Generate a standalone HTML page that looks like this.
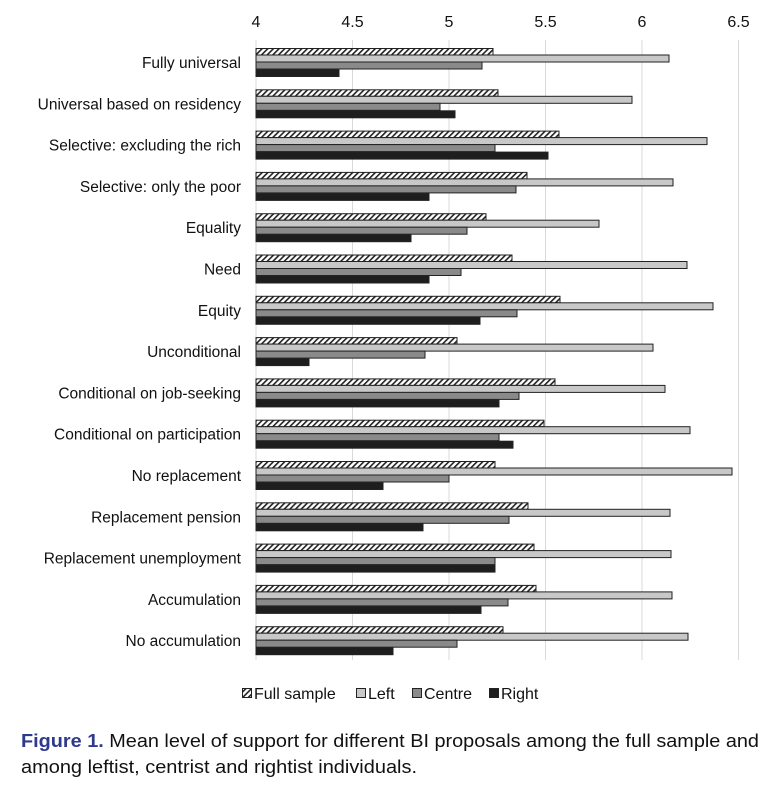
<!DOCTYPE html>
<html><head><meta charset="utf-8"><style>
html,body{margin:0;padding:0;background:#fff;}
svg{display:block;}
text{font-family:"Liberation Sans",sans-serif;fill:#111;}
</style></head><body>
<svg width="778" height="792" viewBox="0 0 778 792" xmlns="http://www.w3.org/2000/svg">
<defs>
<pattern id="h" patternUnits="userSpaceOnUse" width="4" height="4" patternTransform="rotate(45)">
<rect width="4" height="4" fill="#fff"/><rect width="1.6" height="4" fill="#222"/>
</pattern>
<g id="dummy"></g>
</defs>
<g stroke="#d9d9d9" stroke-width="1">
<line x1="256" y1="40" x2="256" y2="660"/>
<line x1="352.5" y1="40" x2="352.5" y2="660"/>
<line x1="449" y1="40" x2="449" y2="660"/>
<line x1="545.5" y1="40" x2="545.5" y2="660"/>
<line x1="642" y1="40" x2="642" y2="660"/>
<line x1="738.5" y1="40" x2="738.5" y2="660"/>
</g>
<g font-size="16" text-anchor="middle">
<text x="256" y="27">4</text><text x="352.5" y="27">4.5</text><text x="449" y="27">5</text>
<text x="545.5" y="27">5.5</text><text x="642" y="27">6</text><text x="738.5" y="27">6.5</text>
</g>
<g font-size="15.5" text-anchor="end">
<text x="241" y="68">Fully universal</text>
<text x="241" y="109.3">Universal based on residency</text>
<text x="241" y="150.6">Selective: excluding the rich</text>
<text x="241" y="191.9">Selective: only the poor</text>
<text x="241" y="233.2">Equality</text>
<text x="241" y="274.5">Need</text>
<text x="241" y="315.8">Equity</text>
<text x="241" y="357.1">Unconditional</text>
<text x="241" y="398.4">Conditional on job-seeking</text>
<text x="241" y="439.7">Conditional on participation</text>
<text x="241" y="481">No replacement</text>
<text x="241" y="522.3">Replacement pension</text>
<text x="241" y="563.6">Replacement unemployment</text>
<text x="241" y="604.9">Accumulation</text>
<text x="241" y="646.2">No accumulation</text>
</g>
<g stroke="#222" stroke-width="1">
<g transform="translate(256,48)"><rect y="0.5" width="237" height="6.5" fill="url(#h)"/><rect y="7" width="413" height="7" fill="#c8c8c8"/><rect y="14" width="226" height="7" fill="#8a8a8a"/><rect y="21.5" width="83" height="7" fill="#1e1e1e"/></g>
<g transform="translate(256,89.3)"><rect y="0.5" width="242" height="6.5" fill="url(#h)"/><rect y="7" width="376" height="7" fill="#c8c8c8"/><rect y="14" width="184" height="7" fill="#8a8a8a"/><rect y="21.5" width="199" height="7" fill="#1e1e1e"/></g>
<g transform="translate(256,130.6)"><rect y="0.5" width="303" height="6.5" fill="url(#h)"/><rect y="7" width="451" height="7" fill="#c8c8c8"/><rect y="14" width="239" height="7" fill="#8a8a8a"/><rect y="21.5" width="292" height="7" fill="#1e1e1e"/></g>
<g transform="translate(256,171.9)"><rect y="0.5" width="271" height="6.5" fill="url(#h)"/><rect y="7" width="417" height="7" fill="#c8c8c8"/><rect y="14" width="260" height="7" fill="#8a8a8a"/><rect y="21.5" width="173" height="7" fill="#1e1e1e"/></g>
<g transform="translate(256,213.2)"><rect y="0.5" width="230" height="6.5" fill="url(#h)"/><rect y="7" width="343" height="7" fill="#c8c8c8"/><rect y="14" width="211" height="7" fill="#8a8a8a"/><rect y="21.5" width="155" height="7" fill="#1e1e1e"/></g>
<g transform="translate(256,254.5)"><rect y="0.5" width="256" height="6.5" fill="url(#h)"/><rect y="7" width="431" height="7" fill="#c8c8c8"/><rect y="14" width="205" height="7" fill="#8a8a8a"/><rect y="21.5" width="173" height="7" fill="#1e1e1e"/></g>
<g transform="translate(256,295.8)"><rect y="0.5" width="304" height="6.5" fill="url(#h)"/><rect y="7" width="457" height="7" fill="#c8c8c8"/><rect y="14" width="261" height="7" fill="#8a8a8a"/><rect y="21.5" width="224" height="7" fill="#1e1e1e"/></g>
<g transform="translate(256,337.1)"><rect y="0.5" width="201" height="6.5" fill="url(#h)"/><rect y="7" width="397" height="7" fill="#c8c8c8"/><rect y="14" width="169" height="7" fill="#8a8a8a"/><rect y="21.5" width="53" height="7" fill="#1e1e1e"/></g>
<g transform="translate(256,378.4)"><rect y="0.5" width="299" height="6.5" fill="url(#h)"/><rect y="7" width="409" height="7" fill="#c8c8c8"/><rect y="14" width="263" height="7" fill="#8a8a8a"/><rect y="21.5" width="243" height="7" fill="#1e1e1e"/></g>
<g transform="translate(256,419.7)"><rect y="0.5" width="288" height="6.5" fill="url(#h)"/><rect y="7" width="434" height="7" fill="#c8c8c8"/><rect y="14" width="243" height="7" fill="#8a8a8a"/><rect y="21.5" width="257" height="7" fill="#1e1e1e"/></g>
<g transform="translate(256,461)"><rect y="0.5" width="239" height="6.5" fill="url(#h)"/><rect y="7" width="476" height="7" fill="#c8c8c8"/><rect y="14" width="193" height="7" fill="#8a8a8a"/><rect y="21.5" width="127" height="7" fill="#1e1e1e"/></g>
<g transform="translate(256,502.3)"><rect y="0.5" width="272" height="6.5" fill="url(#h)"/><rect y="7" width="414" height="7" fill="#c8c8c8"/><rect y="14" width="253" height="7" fill="#8a8a8a"/><rect y="21.5" width="167" height="7" fill="#1e1e1e"/></g>
<g transform="translate(256,543.6)"><rect y="0.5" width="278" height="6.5" fill="url(#h)"/><rect y="7" width="415" height="7" fill="#c8c8c8"/><rect y="14" width="239" height="7" fill="#8a8a8a"/><rect y="21.5" width="239" height="7" fill="#1e1e1e"/></g>
<g transform="translate(256,584.9)"><rect y="0.5" width="280" height="6.5" fill="url(#h)"/><rect y="7" width="416" height="7" fill="#c8c8c8"/><rect y="14" width="252" height="7" fill="#8a8a8a"/><rect y="21.5" width="225" height="7" fill="#1e1e1e"/></g>
<g transform="translate(256,626.2)"><rect y="0.5" width="247" height="6.5" fill="url(#h)"/><rect y="7" width="432" height="7" fill="#c8c8c8"/><rect y="14" width="201" height="7" fill="#8a8a8a"/><rect y="21.5" width="137" height="7" fill="#1e1e1e"/></g>
</g>
<g stroke="#222" stroke-width="1">
<rect x="242.5" y="688.5" width="9" height="9" fill="url(#h)"/>
<rect x="356.5" y="688.5" width="9" height="9" fill="#c8c8c8"/>
<rect x="412.5" y="688.5" width="9" height="9" fill="#8a8a8a"/>
<rect x="489.5" y="688.5" width="9" height="9" fill="#1e1e1e"/>
</g>
<g font-size="16">
<text x="254" y="699">Full sample</text>
<text x="368" y="699">Left</text>
<text x="424" y="699">Centre</text>
<text x="501" y="699">Right</text>
</g>
<text x="21" y="747" font-size="18" textLength="738" lengthAdjust="spacingAndGlyphs"><tspan font-weight="bold" style="fill:#2e3a8c">Figure 1.</tspan> Mean level of support for different BI proposals among the full sample and</text>
<text x="21" y="773" font-size="18" textLength="396" lengthAdjust="spacingAndGlyphs">among leftist, centrist and rightist individuals.</text>
</svg>
</body></html>
